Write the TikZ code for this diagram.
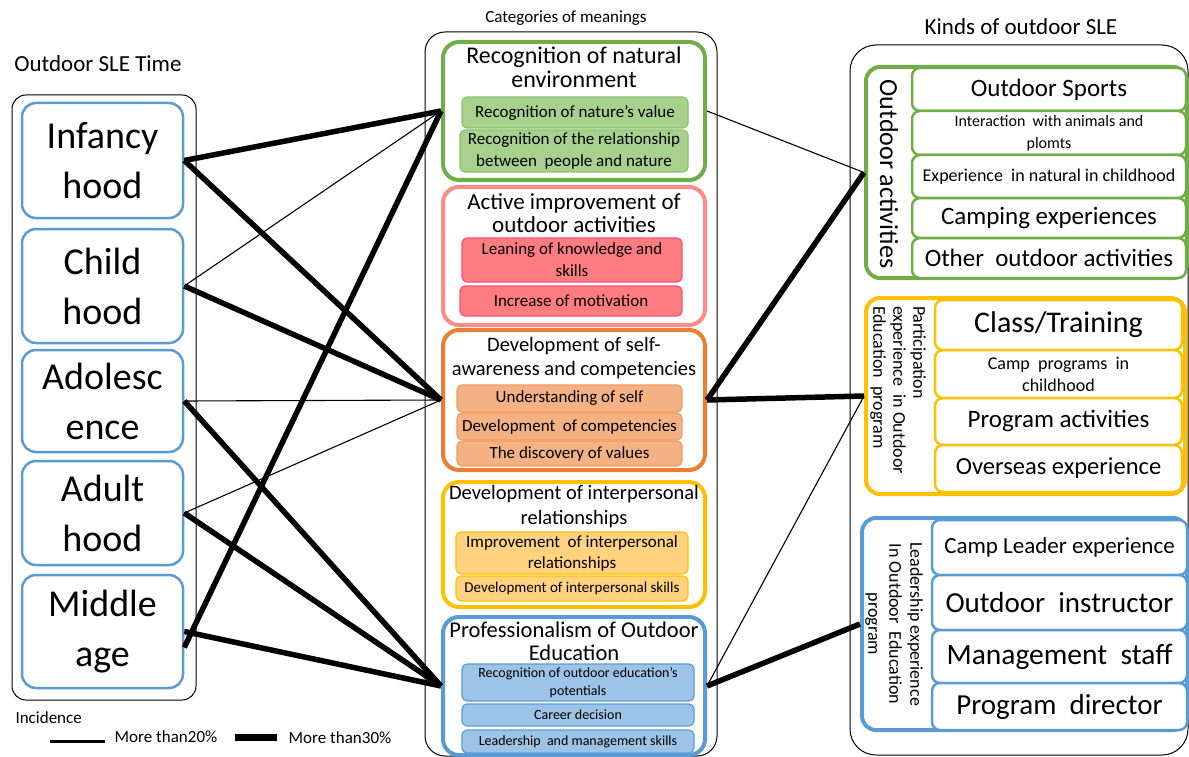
\documentclass[tikz,border=0pt]{standalone}
\usepackage{fontspec}
\setmainfont{Carlito}
\usepackage{xcolor}
\usetikzlibrary{positioning}

\definecolor{ageblue}{HTML}{5B9BD5}
\definecolor{natgreen}{HTML}{70AD47}
\definecolor{natfill}{HTML}{A9D18E}
\definecolor{natline}{HTML}{8CC168}
\definecolor{actpink}{HTML}{FF8B8B}
\definecolor{actfill}{HTML}{FF7C80}
\definecolor{actline}{HTML}{FF4D79}
\definecolor{selforange}{HTML}{ED7D31}
\definecolor{selffill}{HTML}{F4B183}
\definecolor{selfline}{HTML}{F19A5E}
\definecolor{relyellow}{HTML}{FFC000}
\definecolor{relfill}{HTML}{FFD27F}
\definecolor{profblue}{HTML}{5B9BD5}
\definecolor{proffill}{HTML}{9DC3E6}

\tikzset{
  fs/.style 2 args={font=\fontsize{#1}{#2}\selectfont},
  agebox/.style={draw=ageblue, line width=2.5pt, rounded corners=14pt, minimum width=161pt, inner sep=0pt, align=center, fs={38}{50}},
  catbox/.style={draw=#1, line width=4pt, rounded corners=16pt, minimum width=262pt, inner sep=0pt},
  subbox/.style 2 args={draw=#1, fill=#2, line width=1.2pt, rounded corners=5pt, inner sep=0pt, align=center},
  groupbox/.style={draw=#1, line width=4pt, rounded corners=14pt, inner sep=0pt},
  kindbox/.style={draw=#1, fill=white, line width=2.5pt, rounded corners=8pt, inner sep=0pt, align=center},
  frame/.style={draw, line width=1pt, inner sep=0pt},
  strong/.style={line width=5.5pt},
  weak/.style={line width=1.1pt}
}

\begin{document}
\begin{tikzpicture}[x=1pt, y=-1pt]
        \useasboundingbox (0,0) rectangle (1189,757);

        % Outdoor SLE time
        \node[fs={23}{23}] (timehead) at (98,64) {Outdoor SLE Time};
        \node[frame, rounded corners=14pt, minimum width=184pt, minimum height=605pt] (timeframe) at (104,397.5) {};
        \node[agebox, minimum height=115pt] (infancy) at (102.5,160.5) {Infancy\\hood};
        \node[agebox, minimum height=114pt] (childhood) at (102.5,286) {Child\\hood};
        \node[agebox, minimum height=102pt] (adolescence) at (102.5,401) {Adolesc\\ence};
        \node[agebox, minimum height=104pt] (adulthood) at (102.5,513) {Adult\\hood};
        \node[agebox, minimum height=113pt] (middleage) at (102.5,631.5) {Middle\\age};

        % Categories of meanings
        \node[fs={17}{17}] (cathead) at (566,18) {Categories of meanings};
        \node[frame, rounded corners=20pt, minimum width=292pt, minimum height=724pt] (catframe) at (571,394) {};

        \node[catbox=natgreen, minimum height=138pt] (nature) at (574,111) {};
        \node[fs={24}{24}, align=center] (naturetitle) at (574,67) {Recognition of natural\\environment};
        \node[subbox={natline}{natfill}, minimum width=226pt, minimum height=31pt, fs={17}{20}] (natvalue) at (575,112.5) {Recognition of nature's value};
        \node[subbox={natline}{natfill}, minimum width=228pt, minimum height=42pt, fs={17}{22}] (natrel) at (574,151) {Recognition of the relationship\\between\ \ people and nature};

        \node[catbox=actpink, minimum height=138pt] (active) at (574,256) {};
        \node[fs={23}{23}, align=center] (activetitle) at (574,213.5) {Active improvement of\\outdoor activities};
        \node[subbox={actline}{actfill}, minimum width=220pt, minimum height=44pt, fs={17}{22}] (knowledge) at (572,260) {Leaning of knowledge and\\skills};
        \node[subbox={actline}{actfill}, minimum width=222pt, minimum height=30pt, fs={17}{20}] (motivation) at (571,301) {Increase of motivation};

        \node[catbox=selforange, minimum height=140pt] (selfaw) at (574,400) {};
        \node[fs={20.5}{24}, align=center] (selftitle) at (574,358) {Development of self-\\awareness and competencies};
        \node[subbox={selfline}{selffill}, minimum width=225pt, minimum height=27pt, fs={17}{20}] (understand) at (569.5,398.5) {Understanding of self};
        \node[subbox={selfline}{selffill}, minimum width=225pt, minimum height=27pt, fs={17}{20}] (competence) at (569.5,426.5) {Development\ \ of competencies};
        \node[subbox={selfline}{selffill}, minimum width=225pt, minimum height=25pt, fs={17}{20}] (values) at (569.5,453.5) {The discovery of values};

        \node[catbox=relyellow, minimum height=125pt] (relation) at (574,544.5) {};
        \node[fs={20.5}{25}, align=center] (relationtitle) at (574,506.5) {Development of interpersonal\\relationships};
        \node[subbox={relyellow}{relfill}, minimum width=232pt, minimum height=42pt, fs={17}{21}] (improve) at (572,553) {Improvement\ \ of interpersonal\\relationships};
        \node[subbox={relyellow}{relfill}, minimum width=232pt, minimum height=25pt, fs={15}{18}] (interskill) at (572,588.5) {Development of interpersonal skills};

        \node[catbox=profblue, minimum height=138pt] (prof) at (574,686) {};
        \node[fs={22.5}{23}, align=center] (proftitle) at (574,641.5) {Professionalism of Outdoor\\Education};
        \node[subbox={profblue}{proffill}, minimum width=232pt, minimum height=37pt, fs={14}{18}] (potential) at (578,682.5) {Recognition of outdoor education's\\potentials};
        \node[subbox={profblue}{proffill}, minimum width=232pt, minimum height=22pt, fs={14}{18}] (career) at (578,715) {Career decision};
        \node[subbox={profblue}{proffill}, minimum width=232pt, minimum height=23pt, fs={14}{18}] (leadskill) at (578,741.5) {Leadership\ \ and management skills};

        % Kinds of outdoor SLE
        \node[fs={23}{23}] (kindhead) at (1021,27) {Kinds of outdoor SLE};
        \node[frame, rounded corners=26pt, minimum width=338pt, minimum height=710pt] (kindframe) at (1019,400) {};

        \node[groupbox=natgreen, minimum width=321pt, minimum height=211pt] (outdoor) at (1026.5,172.5) {};
        \node[rotate=-90, fs={26}{26}] (outdoorlab) at (889,174) {Outdoor activities};
        \node[kindbox=natgreen, minimum width=274pt, minimum height=43pt, fs={25}{25}] (sports) at (1049,89.5) {Outdoor Sports};
        \node[kindbox=natgreen, minimum width=274pt, minimum height=44pt, fs={16}{22}] (animals) at (1049,133) {Interaction\ \ with animals and\\plomts};
        \node[kindbox=natgreen, minimum width=274pt, minimum height=43pt, fs={18}{20}] (natural) at (1049,176.5) {Experience\ \ in natural in childhood};
        \node[kindbox=natgreen, minimum width=274pt, minimum height=40pt, fs={25}{25}] (camping) at (1049,218) {Camping experiences};
        \node[kindbox=natgreen, minimum width=274pt, minimum height=40pt, fs={25}{25}] (otheract) at (1049,258) {Other\ \ outdoor activities};

        \node[groupbox=relyellow, minimum width=319pt, minimum height=196pt] (particip) at (1025.5,396) {};
        \node[rotate=-90, fs={18}{20}, align=left] (participlab) at (898,390) {Participation\\experience\ \ in Outdoor\\Education\ \ program};
        \node[kindbox=relyellow, minimum width=247pt, minimum height=50pt, fs={30}{30}] (classtrain) at (1058.5,325) {Class/Training};
        \node[kindbox=relyellow, minimum width=247pt, minimum height=48pt, fs={18}{22}] (campprog) at (1058.5,374) {Camp\ \ programs\ \ in\\childhood};
        \node[kindbox=relyellow, minimum width=247pt, minimum height=47pt, fs={25}{25}] (progact) at (1058.5,421.5) {Program activities};
        \node[kindbox=relyellow, minimum width=247pt, minimum height=47pt, fs={24.5}{25}] (overseas) at (1058.5,468.5) {Overseas experience};

        \node[groupbox=profblue, minimum width=325pt, minimum height=212pt] (leader) at (1024.5,624) {};
        \node[rotate=-90, fs={18}{21}, align=center] (leaderlab) at (894,624) {Leadership experience\\In Outdoor\ \ Education\\program};
        \node[kindbox=profblue, minimum width=255pt, minimum height=55pt, fs={23}{23}] (campleader) at (1059.5,547.5) {Camp Leader experience};
        \node[kindbox=profblue, minimum width=255pt, minimum height=55pt, fs={29}{29}] (instructor) at (1059.5,602.5) {Outdoor\ \ instructor};
        \node[kindbox=profblue, minimum width=255pt, minimum height=53pt, fs={29.5}{29.5}] (mgmtstaff) at (1059.5,656.5) {Management\ \ staff};
        \node[kindbox=profblue, minimum width=255pt, minimum height=47pt, fs={29}{29}] (director) at (1059.5,706.5) {Program\ \ director};

        % Incidence lines
        \draw[strong] (infancy.east) -- (nature.west);
        \draw[strong] (infancy.east) -- (selfaw.west);
        \draw[weak] (childhood.east) -- (nature.west);
        \draw[strong] (childhood.east) -- (selfaw.west);
        \draw[weak] (adolescence.east) -- (selfaw.west);
        \draw[strong] (adolescence.east) -- (prof.west);
        \draw[weak] (adulthood.east) -- (selfaw.west);
        \draw[strong] (adulthood.east) -- (prof.west);
        \draw[strong] (middleage.east) -- (prof.west);
        \draw[strong] ([yshift=-16pt]middleage.east) -- (nature.west);

        \draw[weak] (nature.east) -- (outdoor.west);
        \draw[strong] (selfaw.east) -- (outdoor.west);
        \draw[strong] (selfaw.east) -- (particip.west);
        \draw[weak] (prof.east) -- (particip.west);
        \draw[strong] (prof.east) -- (leader.west);

        % Legend
        \node[fs={17}{17}, anchor=west] (incidence) at (12,718) {Incidence};
        \coordinate (thinA) at (50,741);
        \coordinate (thinB) at (105,741);
        \draw[line width=3pt] (thinA) -- (thinB);
        \node[fs={17}{17}] (morethin) at (166,737) {More than20\%};
        \coordinate (thickA) at (235,737);
        \coordinate (thickB) at (277,737);
        \draw[line width=7pt] (thickA) -- (thickB);
        \node[fs={17}{17}] (morethick) at (340,738) {More than30\%};
    \end{tikzpicture}
\end{document}
